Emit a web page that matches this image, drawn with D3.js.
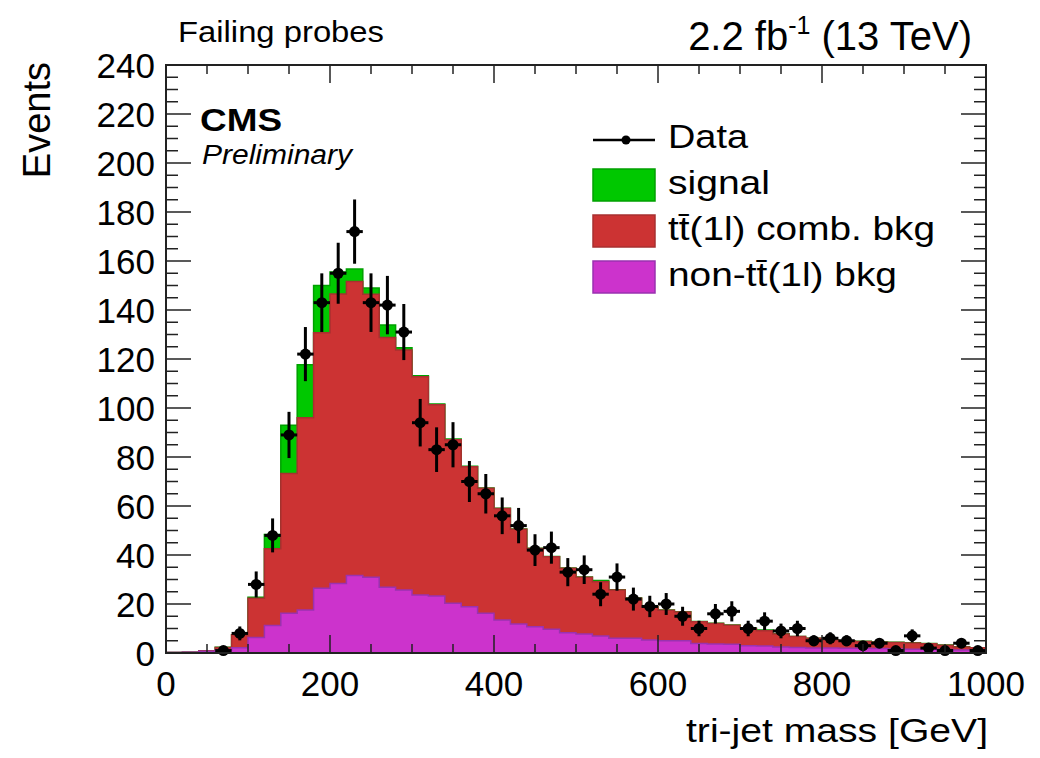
<!DOCTYPE html>
<html>
<head>
<meta charset="utf-8">
<script src="https://cdn.jsdelivr.net/npm/d3@7"></script>
<style>
  html, body { margin: 0; padding: 0; background: #fff; }
  svg { display: block; font-family: "Liberation Sans", Arial, Helvetica, sans-serif; }
</style>
</head>
<body>
<svg id="chart" width="1040" height="758"></svg>
<script>
// ---- data (20 GeV bins, 0-1000 GeV) ----
const binLow = [0,20,40,60,80,100,120,140,160,180,200,220,240,260,280,300,320,340,360,380,
  400,420,440,460,480,500,520,540,560,580,600,620,640,660,680,700,720,740,760,780,
  800,820,840,860,880,900,920,940,960,980];
const binWidth = 20;
const nonTTbkg = [0.2,0.3,0.7,1.2,2.1,6.3,11.2,16.2,17.6,26.4,28.4,31.6,30.9,26.8,25.7,23.7,23.3,20.3,18.9,16.2,
  13.5,11.8,10.7,9.7,8.3,7.8,6.9,6.0,6.0,5.3,5.0,5.0,3.9,3.7,3.6,3.0,2.9,2.5,2.2,2.0,
  2.0,1.9,1.9,1.8,1.6,1.5,1.5,1.4,1.2,1.2];
const ttCombBkg = [0,0,0.2,1.0,5.3,16.0,31.4,57.1,78.4,104.3,118.1,120.0,115.5,102.0,98.0,89.1,78.0,66.7,57.1,51.0,
  45.5,38.7,32.0,29.6,26.3,23.1,22.2,19.7,16.3,13.5,12.5,11.7,8.9,8.3,7.7,7.0,6.2,5.3,4.5,4.0,
  3.3,3.1,2.8,2.6,2.7,2.6,2.3,1.8,1.3,0.9];
const signal = [0,0,0,0.1,0.1,0.5,5.8,19.7,21.7,19.3,9.0,5.1,2.6,5.1,0.9,0.4,0.3,0.3,0.2,0.1,
  0.1,0.1,0.1,0.1,0.1,0.1,0.5,0.1,0.1,0.1,0.1,0.1,0.1,0.1,0.1,0.1,0.3,0.1,0.05,0.05,
  0.05,0.05,0.05,0.05,0.05,0.05,0.05,0.05,0.05,0.05];
const dataCounts = [0,0,0,1,8,28,48,89,122,143,155,172,143,142,131,94,83,85,70,65,
  56,52,42,43,33,34,24,31,22,19,20,15,10,16,17,10,13,9,10,5,
  6,5,3,4,1,7,2,1,4,1];
const xTicks = [0,200,400,600,800,1000];
const xMinorTicks = [50,100,150,250,300,350,450,500,550,650,700,750,850,900,950];
const yTicks = [0,20,40,60,80,100,120,140,160,180,200,220,240];
const yMinorStep = 5;

const colSignal = "#00c800", colTT = "#cc3333", colNon = "#cc33cc";
const lineSignal = "#00a000", lineTT = "#a83030", lineNon = "#9a32b0";

// ---- layout ----
const svg = d3.select("#chart");
const X0 = 166, X1 = 986, Y0 = 653, Y1 = 65;
const x = d3.scaleLinear().domain([0, 1000]).range([X0, X1]);
const y = d3.scaleLinear().domain([0, 240]).range([Y0, Y1]);

// stacked tops
const layerNon = nonTTbkg.slice();
const layerTT = nonTTbkg.map((v, i) => v + ttCombBkg[i]);
const layerSig = layerTT.map((v, i) => v + signal[i]);

function stepPoints(vals) {
  const pts = [];
  binLow.forEach((lo, i) => {
    pts.push({ x: lo, y: vals[i] });
    pts.push({ x: lo + binWidth, y: vals[i] });
  });
  return pts;
}
const area = d3.area().x(d => x(d.x)).y0(y(0)).y1(d => y(d.y));
const line = d3.line().x(d => x(d.x)).y(d => y(d.y));

const g = svg.append("g");
[[layerSig, colSignal, lineSignal], [layerTT, colTT, lineTT], [layerNon, colNon, lineNon]].forEach(([vals, fill, stroke]) => {
  const pts = stepPoints(vals);
  g.append("path").attr("d", area(pts)).attr("fill", fill);
  g.append("path").attr("d", line(pts)).attr("fill", "none").attr("stroke", stroke).attr("stroke-width", 1.5);
});

// ---- data points ----
const dg = svg.append("g");
binLow.forEach((lo, i) => {
  const n = dataCounts[i];
  if (n <= 0) return;
  const cx = x(lo + binWidth / 2), cy = y(n);
  const err = Math.sqrt(n);
  dg.append("line").attr("x1", cx).attr("x2", cx).attr("y1", y(n - err)).attr("y2", y(n + err))
    .attr("stroke", "#000").attr("stroke-width", 3);
  dg.append("line").attr("x1", x(lo)).attr("x2", x(lo + binWidth)).attr("y1", cy).attr("y2", cy)
    .attr("stroke", "#000").attr("stroke-width", 3);
  dg.append("path").attr("transform", `translate(${cx},${cy})`)
    .attr("d", d3.symbol(d3.symbolCircle, 95)()).attr("fill", "#000");
});

// ---- frame & ticks ----
const ax = svg.append("g").attr("stroke", "#222").attr("stroke-width", 1.5);
ax.append("rect").attr("x", X0).attr("y", Y1).attr("width", X1 - X0).attr("height", Y0 - Y1)
  .attr("fill", "none").attr("stroke-width", 2);
xTicks.forEach(t => {
  ax.append("line").attr("x1", x(t)).attr("x2", x(t)).attr("y1", Y0).attr("y2", Y0 - 18);
  ax.append("line").attr("x1", x(t)).attr("x2", x(t)).attr("y1", Y1).attr("y2", Y1 + 18);
});
xMinorTicks.forEach(t => {
  ax.append("line").attr("x1", x(t)).attr("x2", x(t)).attr("y1", Y0).attr("y2", Y0 - 9);
  ax.append("line").attr("x1", x(t)).attr("x2", x(t)).attr("y1", Y1).attr("y2", Y1 + 9);
});
for (let v = 0; v <= 240; v += yMinorStep) {
  const major = yTicks.includes(v);
  const len = major ? 25 : 12;
  ax.append("line").attr("x1", X0).attr("x2", X0 + len).attr("y1", y(v)).attr("y2", y(v));
  ax.append("line").attr("x1", X1).attr("x2", X1 - len).attr("y1", y(v)).attr("y2", y(v));
}

// tick labels
const tl = svg.append("g").attr("font-size", 35).attr("fill", "#000");
xTicks.forEach(t => {
  tl.append("text").attr("x", x(t)).attr("y", 696).attr("text-anchor", "middle").text(t);
});
yTicks.forEach(t => {
  tl.append("text").attr("x", 155).attr("y", y(t) + 12.5).attr("text-anchor", "end").text(t);
});

// axis titles
svg.append("text").attr("x", 988).attr("y", 742).attr("text-anchor", "end")
  .attr("font-size", 34).attr("textLength", 302).attr("lengthAdjust", "spacingAndGlyphs")
  .text("tri-jet mass [GeV]");
svg.append("text").attr("transform", "translate(50,62) rotate(-90)").attr("text-anchor", "end")
  .attr("font-size", 38).text("Events");

// top labels
svg.append("text").attr("x", 178).attr("y", 42).attr("font-size", 30)
  .attr("textLength", 206).attr("lengthAdjust", "spacingAndGlyphs").text("Failing probes");
const lumi = svg.append("text").attr("x", 972).attr("y", 50).attr("text-anchor", "end").attr("font-size", 40);
lumi.append("tspan").text("2.2 fb");
lumi.append("tspan").attr("font-size", 25).attr("dy", -16).text("-1");
lumi.append("tspan").attr("dy", 16).text(" (13 TeV)");

svg.append("text").attr("x", 200).attr("y", 131).attr("font-size", 32).attr("font-weight", "bold")
  .attr("textLength", 82).attr("lengthAdjust", "spacingAndGlyphs").text("CMS");
svg.append("text").attr("x", 202).attr("y", 164).attr("font-size", 27).attr("font-style", "italic")
  .attr("textLength", 150).attr("lengthAdjust", "spacingAndGlyphs").text("Preliminary");

// ---- legend ----
const leg = svg.append("g");
leg.append("line").attr("x1", 593).attr("x2", 655).attr("y1", 140).attr("y2", 140)
  .attr("stroke", "#000").attr("stroke-width", 2.5);
leg.append("circle").attr("cx", 626).attr("cy", 140).attr("r", 4.5).attr("fill", "#000");
const legItems = [
  { label: "Data", y: 148, w: 80 },
  { label: "signal", y: 194, w: 102, fill: colSignal, stroke: lineSignal, by: 169 },
  { label: "t\u0074\u0304(1l) comb. bkg", y: 240, w: 267, fill: colTT, stroke: lineTT, by: 215 },
  { label: "non-t\u0074\u0304(1l) bkg", y: 286, w: 229, fill: colNon, stroke: lineNon, by: 261 }
];
legItems.forEach(it => {
  if (it.fill) {
    leg.append("rect").attr("x", 593).attr("y", it.by).attr("width", 62).attr("height", 32)
      .attr("fill", it.fill).attr("stroke", it.stroke).attr("stroke-width", 1.5);
  }
  leg.append("text").attr("x", 668).attr("y", it.y).attr("font-size", 34)
    .attr("textLength", it.w).attr("lengthAdjust", "spacingAndGlyphs").text(it.label);
});
</script>
</body>
</html>
